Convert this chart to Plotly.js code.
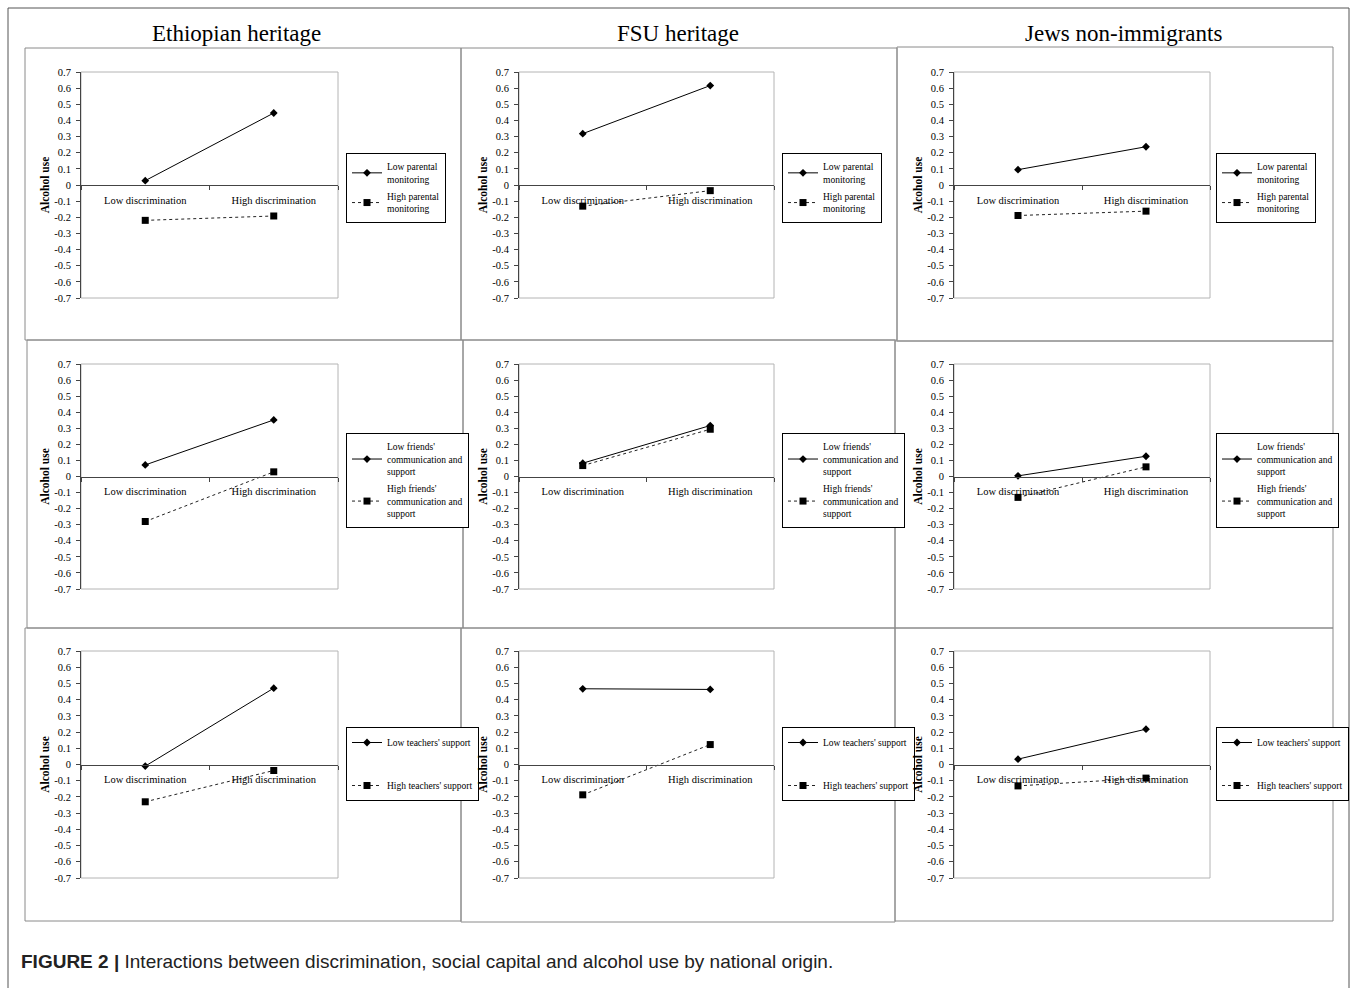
<!DOCTYPE html>
<html><head><meta charset="utf-8">
<script src="https://cdn.plot.ly/plotly-3.0.1.min.js"></script>
<style>html,body{margin:0;padding:0;background:#fff}</style>
</head><body><div id="chart" style="width:1357px;height:988px"></div>
<script>
// ---------------- DATA ----------------
const categories = ['Low discrimination', 'High discrimination'];
const columnTitles = ['Ethiopian heritage', 'FSU heritage', 'Jews non-immigrants'];
const yTitle = 'Alcohol use';
const yTickVals = [0.7, 0.6, 0.5, 0.4, 0.3, 0.2, 0.1, 0, -0.1, -0.2, -0.3, -0.4, -0.5, -0.6, -0.7];
const yTickText = ['0.7', '0.6', '0.5', '0.4', '0.3', '0.2', '0.1', '0', '-0.1', '-0.2', '-0.3', '-0.4', '-0.5', '-0.6', '-0.7'];

const lowNames = ['Low parental<br>monitoring', "Low friends'<br>communication and<br>support", "Low teachers' support"];
const highNames = ['High parental<br>monitoring', "High friends'<br>communication and<br>support", "High teachers' support"];

// Parental monitoring (row 1)
const ethParentalLow = [0.027, 0.446];
const ethParentalHigh = [-0.219, -0.192];
const fsuParentalLow = [0.318, 0.616];
const fsuParentalHigh = [-0.131, -0.035];
const jewParentalLow = [0.095, 0.237];
const jewParentalHigh = [-0.189, -0.162];
// Friends' communication and support (row 2)
const ethFriendsLow = [0.072, 0.352];
const ethFriendsHigh = [-0.28, 0.029];
const fsuFriendsLow = [0.083, 0.317];
const fsuFriendsHigh = [0.068, 0.294];
const jewFriendsLow = [0.004, 0.126];
const jewFriendsHigh = [-0.13, 0.06];
// Teachers' support (row 3)
const ethTeachersLow = [-0.01, 0.471];
const ethTeachersHigh = [-0.23, -0.037];
const fsuTeachersLow = [0.467, 0.463];
const fsuTeachersHigh = [-0.187, 0.123];
const jewTeachersLow = [0.033, 0.218];
const jewTeachersHigh = [-0.132, -0.084];

const seriesLow = [
  [ethParentalLow, fsuParentalLow, jewParentalLow],
  [ethFriendsLow, fsuFriendsLow, jewFriendsLow],
  [ethTeachersLow, fsuTeachersLow, jewTeachersLow]
];
const seriesHigh = [
  [ethParentalHigh, fsuParentalHigh, jewParentalHigh],
  [ethFriendsHigh, fsuFriendsHigh, jewFriendsHigh],
  [ethTeachersHigh, fsuTeachersHigh, jewTeachersHigh]
];

// ---------------- LAYOUT (pixels) ----------------
const W = 1357, H = 988;
const fx = p => p / W;
const fy = p => 1 - p / H;
const colPlot = [[81, 338], [519, 774], [954, 1210]];
const rowPlot = [[72, 298], [364, 589], [651, 878]];
const colLegend = [346, 782, 1216];
const rowLegend = [153, 433, 727];
const rowGap = [2, 2, 24];
const panelRects = [
  [25, 48, 461, 340], [461, 48, 897, 340], [897, 47, 1333, 341],
  [27, 340, 463, 628], [463, 340, 895, 628], [895, 341, 1333, 628],
  [25, 628, 461, 921], [461, 628, 895, 922], [895, 628, 1333, 921]
];

const serif = 'Liberation Serif, Times New Roman, serif';
const traces = [];
const layout = {
  width: W, height: H,
  margin: {l: 0, r: 0, t: 0, b: 0},
  paper_bgcolor: '#fff', plot_bgcolor: 'rgba(0,0,0,0)',
  font: {family: serif, color: '#000'},
  shapes: [], annotations: []
};

for (let r = 0; r < 3; r++) {
  for (let c = 0; c < 3; c++) {
    const i = r * 3 + c + 1;
    const sx = i === 1 ? '' : String(i);
    const xa = 'x' + sx, ya = 'y' + sx;
    const lg = 'legend' + sx;
    const yd = [fy(rowPlot[r][1]), fy(rowPlot[r][0])];
    const xd = [fx(colPlot[c][0]), fx(colPlot[c][1])];
    layout['xaxis' + sx] = {
      domain: xd, anchor: 'free', position: (yd[0] + yd[1]) / 2,
      type: 'category', range: [-0.5, 1.5], tickson: 'boundaries',
      ticks: 'outside', ticklen: 4, tickcolor: '#444', showline: true, linecolor: '#444', linewidth: 1,
      showgrid: false, zeroline: false, ticklabelstandoff: 5,
      tickfont: {family: serif, size: 10.5, color: '#000'}, fixedrange: true
    };
    layout['yaxis' + sx] = {
      domain: yd, anchor: xa, range: [-0.7, 0.7],
      tickmode: 'array', tickvals: yTickVals, ticktext: yTickText,
      ticks: 'outside', ticklen: 4, tickcolor: '#444', showline: true, linecolor: '#444', linewidth: 1,
      showgrid: false, zeroline: false, ticklabelstandoff: 3,
      tickfont: {family: serif, size: 10.5, color: '#000'},
      title: {text: '<b>' + yTitle + '</b>', font: {family: serif, size: 11.5, color: '#000'}, standoff: 2},
      fixedrange: true
    };
    layout[lg] = {
      x: fx(colLegend[c]), y: fy(rowLegend[r]), xanchor: 'left', yanchor: 'top',
      bgcolor: '#fff', bordercolor: '#000', borderwidth: 1,
      font: {family: serif, size: 9.5, color: '#000'},
      traceorder: 'grouped', tracegroupgap: rowGap[r], itemwidth: 30
    };
    // plot frame
    layout.shapes.push({
      type: 'rect', xref: xa + ' domain', yref: ya + ' domain', x0: 0, x1: 1, y0: 0, y1: 1,
      line: {color: '#b4b4b4', width: 1}, layer: 'below'
    });
    traces.push({
      x: categories, y: seriesLow[r][c], xaxis: xa, yaxis: ya, legend: lg,
      name: lowNames[r], legendgroup: 'low' + i, mode: 'lines+markers',
      line: {color: '#000', width: 1},
      marker: {symbol: 'diamond', size: 6, color: '#000'}, hoverinfo: 'skip'
    });
    traces.push({
      x: categories, y: seriesHigh[r][c], xaxis: xa, yaxis: ya, legend: lg,
      name: highNames[r], legendgroup: 'high' + i, mode: 'lines+markers',
      line: {color: '#222', width: 1, dash: 'dot'},
      marker: {symbol: 'square', size: 7, color: '#000'}, hoverinfo: 'skip'
    });
  }
}

// panel borders
panelRects.forEach(p => layout.shapes.push({
  type: 'rect', xref: 'paper', yref: 'paper',
  x0: fx(p[0]), x1: fx(p[2]), y0: fy(p[3]), y1: fy(p[1]),
  line: {color: '#8a8a8a', width: 1}, layer: 'below'
}));
// outer frame
layout.shapes.push({
  type: 'rect', xref: 'paper', yref: 'paper',
  x0: fx(8), x1: fx(1349), y0: fy(996), y1: fy(8),
  line: {color: '#555', width: 1}, layer: 'below'
});

// column titles
const titleX = [236, 678, 1123];
columnTitles.forEach((t, k) => layout.annotations.push({
  text: t, xref: 'paper', yref: 'paper', x: fx(titleX[k]), y: fy(33),
  xanchor: 'center', yanchor: 'middle', showarrow: false,
  font: {family: serif, size: 23, color: '#000'}
}));
// caption
layout.annotations.push({
  text: '<b>FIGURE 2 |</b> Interactions between discrimination, social capital and alcohol use by national origin.',
  xref: 'paper', yref: 'paper', x: fx(19), y: fy(961), xanchor: 'left', yanchor: 'middle',
  showarrow: false, font: {family: 'Liberation Sans, Arial, sans-serif', size: 19, color: '#222'}
});

Plotly.newPlot('chart', traces, layout, {displayModeBar: false, staticPlot: true});
</script></body></html>
